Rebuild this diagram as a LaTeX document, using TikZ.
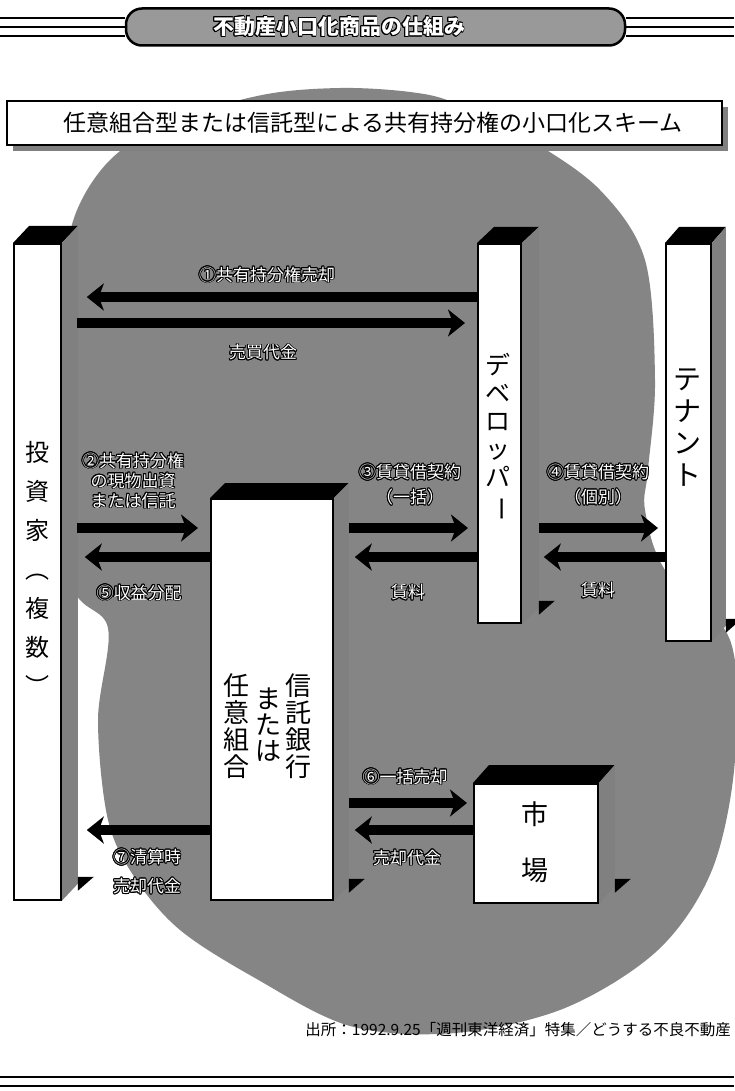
\documentclass[tikz,border=0pt]{standalone}
\usepackage{fontspec}
\setmainfont{Noto Sans CJK JP}
\usepackage{graphicx}
\usepackage{contour}
\contourlength{0.9pt}
\usetikzlibrary{arrows.meta,calc}
\pgfdeclarelayer{bg}
\pgfsetlayers{bg,main}
\definecolor{blob}{gray}{0.52}
\definecolor{sidef}{gray}{0.5}
\definecolor{bann}{gray}{0.6}
\newcommand\jpfs[2]{\fontsize{#1}{#2}\selectfont}
\newcommand\olab[1]{\contour{black}{#1}}
\newcommand\threed[3]{%
 \begin{pgfonlayer}{bg}
 \fill[black] (#1.north west) -- ($(#1.north west)+(#2,-#3)$) -- ($(#1.north east)+(#2,-#3)$) -- (#1.north east) -- cycle;
 \fill[sidef] (#1.north east) -- ($(#1.north east)+(#2,-#3)$) -- ($(#1.south east)+(#2,-#3)$) -- (#1.south east) -- cycle;
 \fill[black] ($(#1.south east)+(#2,-#3)+(0,-7)$) -- ++(16,0) -- ++(-16,14) -- cycle;
 \end{pgfonlayer}}
\begin{document}
\begin{tikzpicture}[x=1pt,y=-1pt,
  front/.style={draw, line width=1.8pt, fill=white, inner sep=0pt, anchor=north west},
  big/.style={line width=10pt, -{Stealth[length=17pt,width=27pt,inset=5pt]}},
  lab/.style={text=white, font=\jpfs{17}{20}, align=center, inner sep=0pt},
  vtext/.style={align=center, inner sep=0pt}]
\useasboundingbox (0,0) rectangle (734,1091);
\begin{pgfonlayer}{bg}
\fill[white] (0,0) rectangle (734,1091);
% background blob
\fill[blob] plot[smooth cycle, tension=0.55] coordinates {
 (340,88) (410,92) (455,103) (530,140) (600,190) (645,260) (655,380) (648,470)
 (645,510) (665,570) (730,640) (735,760) (712,870) (658,950) (565,1008) (455,1033)
 (350,1026) (255,978) (180,930) (135,878) (108,820) (98,720) (108,628)
 (72,585) (58,450) (62,300) (74,218) (110,160) (170,122) (262,95)};
\end{pgfonlayer}
% title
\node[draw, line width=2.5pt, fill=bann, rounded corners=16pt, minimum width=499pt,
      minimum height=37pt, inner sep=0pt] (title) at (375.5,27) {};
\foreach \yy in {18,27,36} {
  \draw[line width=1.8pt] (0,\yy) -- (title.west |- 0,\yy);
  \draw[line width=1.8pt] (title.east |- 0,\yy) -- (734,\yy);
}
\node[text=white, font=\jpfs{21}{24}\bfseries, inner sep=0pt] (titletext) at (339,27)
  {\contour{black}{不動産小口化商品の仕組み}};
% subtitle
\fill[sidef] (13,107) rectangle (728,151);
\node[draw, line width=1.8pt, fill=white, minimum width=715pt, minimum height=44pt,
      inner sep=0pt] (sub) at (364.5,123) {};
\node[font=\jpfs{23}{25}, inner sep=0pt] (subtext) at (373,123)
  {任意組合型または信託型による共有持分権の小口化スキーム};
% boxes
\node[front, minimum width=47pt, minimum height=656pt] (inv) at (13,243) {};
\node[front, minimum width=43pt, minimum height=379pt] (dev) at (477,243) {};
\node[front, minimum width=45pt, minimum height=397pt] (ten) at (665,243) {};
\node[front, minimum width=122pt, minimum height=401pt] (tru) at (210,498) {};
\node[front, minimum width=124pt, minimum height=119pt] (mkt) at (473,783) {};
\threed{inv}{16}{17}
\threed{dev}{17}{16}
\threed{ten}{14}{16}
\threed{tru}{15}{15}
\threed{mkt}{16}{18}
% box texts
\node[vtext, font=\jpfs{24}{39}] (invtxt) at (37,568) {投\\資\\家\\︵\\複\\数\\︶};
\node[vtext, font=\jpfs{25}{28}] (devtxt) at (498,437) {デ\\ベ\\ロ\\ッ\\パ\\\rotatebox[origin=c]{-90}{ー}};
\node[vtext, font=\jpfs{28}{32}] (tentxt) at (687,428) {テ\\ナ\\ン\\ト};
\node[vtext, font=\jpfs{26}{27}] (tru1) at (298,726) {信\\託\\銀\\行};
\node[vtext, font=\jpfs{26}{26}] (tru2) at (268,725) {ま\\た\\は};
\node[vtext, font=\jpfs{26}{27}] (tru3) at (236,726) {任\\意\\組\\合};
\node[vtext, font=\jpfs{27}{56}] (mkttxt) at (535,842) {市\\場};
% arrows
\draw[big] (dev.west |- 0,297) -- ([xshift=25pt]inv.east |- 0,297);
\draw[big] ([xshift=15pt]inv.east |- 0,323) -- ([xshift=-12pt]dev.west |- 0,323);
\draw[big] ([xshift=15pt]inv.east |- 0,528) -- ([xshift=-12pt]tru.west |- 0,528);
\draw[big] (tru.west |- 0,557) -- ([xshift=23pt]inv.east |- 0,557);
\draw[big] ([xshift=15pt]tru.east |- 0,528) -- ([xshift=-9pt]dev.west |- 0,528);
\draw[big] (dev.west |- 0,557) -- ([xshift=21pt]tru.east |- 0,557);
\draw[big] ([xshift=17pt]dev.east |- 0,528) -- ([xshift=-7pt]ten.west |- 0,528);
\draw[big] (ten.west |- 0,557) -- ([xshift=22pt]dev.east |- 0,557);
\draw[big] ([xshift=15pt]tru.east |- 0,803) -- ([xshift=-6pt]mkt.west |- 0,803);
\draw[big] (mkt.west |- 0,830) -- ([xshift=21pt]tru.east |- 0,830);
\draw[big] (tru.west |- 0,830) -- ([xshift=25pt]inv.east |- 0,830);
% labels
\node[lab] (l1) at (267,275) {\olab{①共有持分権売却}};
\node[lab] (l1b) at (263,353) {\olab{売買代金}};
\node[lab] (l2) at (133,481) {\olab{②共有持分権}\\\olab{の現物出資}\\\olab{または信託}};
\node[lab] (l5) at (139,593) {\olab{⑤収益分配}};
\node[lab, font=\jpfs{17}{25}] (l3) at (410,485) {\olab{③賃貸借契約}\\\olab{（一括）}};
\node[lab] (l3b) at (408,593) {\olab{賃料}};
\node[lab, font=\jpfs{17}{25}] (l4) at (598,485) {\olab{④賃貸借契約}\\\olab{（個別）}};
\node[lab] (l4b) at (598,591) {\olab{賃料}};
\node[lab] (l6) at (405,777) {\olab{⑥一括売却}};
\node[lab] (l6b) at (407,858) {\olab{売却代金}};
\node[lab, font=\jpfs{17}{29}] (l7) at (147,872) {\olab{⑦清算時}\\\olab{売却代金}};
% source
\node[font=\jpfs{15.5}{17}, anchor=east, inner sep=0pt] (src) at (731,1030)
  {出所：1992.9.25「週刊東洋経済」特集／どうする不良不動産};
\draw[line width=2.5pt] (0,1077) -- (734,1077);
\draw[line width=1.3pt] (0,1086) -- (734,1086);
\end{tikzpicture}
\end{document}
